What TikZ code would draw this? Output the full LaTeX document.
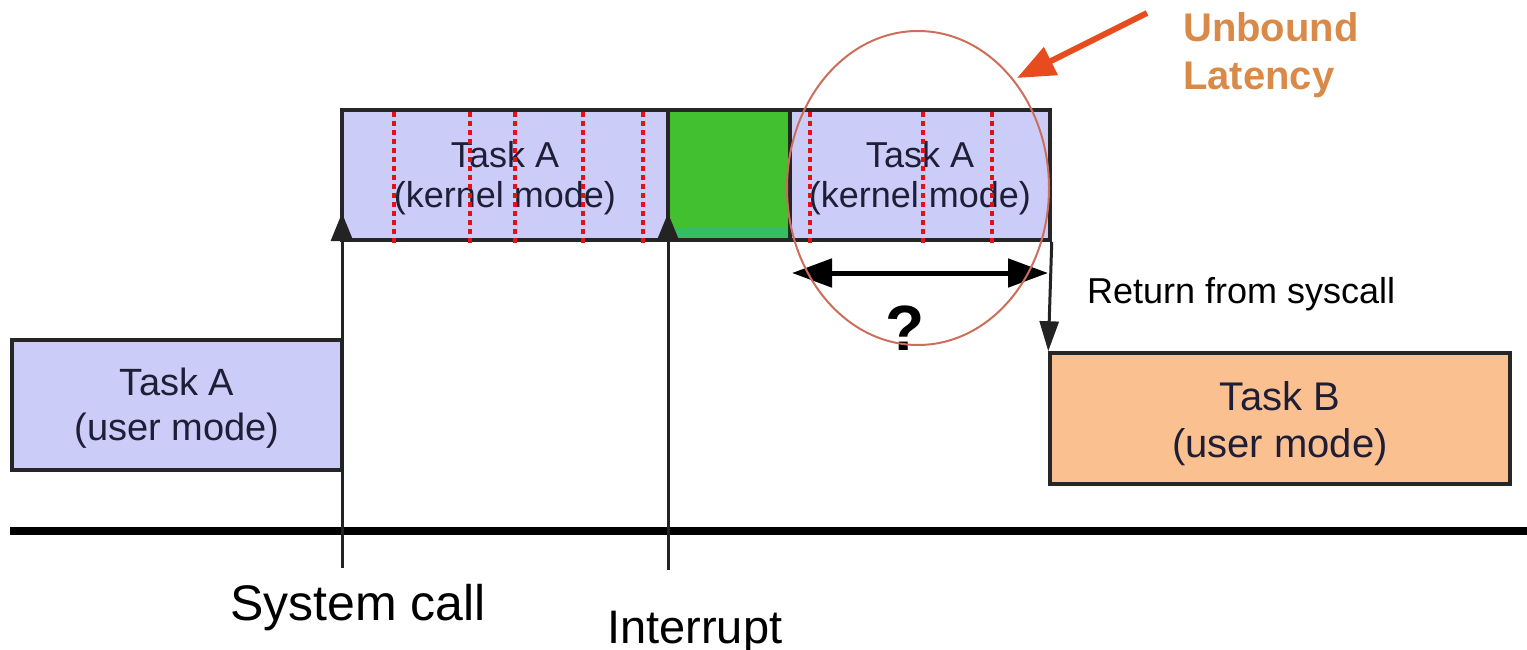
\documentclass[tikz,border=0pt]{standalone}
\usepackage{fontspec}
\setmainfont{Liberation Sans}
\usetikzlibrary{arrows.meta,shapes.geometric}
\definecolor{taskblue}{RGB}{204,204,248}
\definecolor{taskorange}{RGB}{250,192,144}
\definecolor{irqgreen}{RGB}{66,192,48}
\definecolor{irqstrip}{RGB}{52,190,100}
\definecolor{dotred}{RGB}{228,16,22}
\definecolor{circred}{RGB}{205,110,90}
\definecolor{arrorange}{RGB}{232,76,30}
\definecolor{latorange}{RGB}{218,138,72}
\definecolor{boxtext}{RGB}{30,30,55}
\definecolor{linegray}{RGB}{35,35,35}
\begin{document}
\begin{tikzpicture}[x=1pt,y=-1pt,
  taskbox/.style={draw=black!85, line width=3.5pt, inner sep=0pt, align=center, text=boxtext},
  dotline/.style={draw=dotred, line width=3.5pt, dash pattern=on 5pt off 4pt},
  vline/.style={draw=linegray, line width=3pt, -{Triangle[length=28pt,width=22pt]}},
  label/.style={inner sep=0pt, anchor=base west}
]
\useasboundingbox (0,0) rectangle (1527,650);

% boxes
\node[taskbox, fill=taskblue, minimum width=330pt, minimum height=130pt,
      font=\fontsize{38}{45}\selectfont] (ua) at (177,405) {\rule{0pt}{33.7pt}Task A\\(user mode)};
\node[taskbox, fill=taskblue, minimum width=326pt, minimum height=130pt,
      font=\fontsize{36}{40}\selectfont] (k1) at (505,175) {\rule{0pt}{32pt}Task A\\(kernel mode)};
\node[taskbox, fill=irqgreen, minimum width=122pt, minimum height=130pt] (irq) at (729,175) {};
\fill[irqstrip] (670,228) rectangle (788,238);
\node[taskbox, fill=taskblue, minimum width=260pt, minimum height=130pt,
      font=\fontsize{36}{40}\selectfont] (k2) at (920,175) {\rule{0pt}{32pt}Task A\\(kernel mode)};
\node[taskbox, fill=taskorange, minimum width=460pt, minimum height=131pt,
      font=\fontsize{40}{47}\selectfont] (tb) at (1280,418.5) {\rule{0pt}{39pt}Task B\\(user mode)};

% red dotted preemption points
\foreach \xx in {394,470,515,583,643,810,923,992}
  \draw[dotline] (\xx,112) -- (\xx,243);

% timeline
\coordinate (tl0) at (10,531);
\coordinate (tl1) at (1527,531);
\draw[line width=8pt] (tl0) -- (tl1);

% system call / interrupt arrows
\coordinate (scBot) at (342,568);
\coordinate (scTip) at (342,213);
\coordinate (irBot) at (668,570);
\coordinate (irTip) at (668,213);
\draw[vline] (scBot) -- (scTip);
\draw[vline] (irBot) -- (irTip);

% return from syscall
\draw[draw=linegray, line width=3pt, -{Triangle[length=30pt,width=19pt]}] (k2.south east) -- (tb.north west);

% latency double arrow
\coordinate (laL) at (792,273);
\coordinate (laR) at (1048,273);
\draw[line width=5pt, {Triangle[length=40pt,width=28pt]}-{Triangle[length=40pt,width=28pt]}] (laL) -- (laR);
\node[inner sep=0pt, anchor=base, font=\bfseries\fontsize{64}{64}\selectfont] (q) at (905,350) {?};

% unbound latency circle
\node[draw=circred, line width=2pt, ellipse, minimum width=262pt, minimum height=314pt, inner sep=0pt] (circ) at (918,188) {};

% orange arrow
\coordinate (oaStart) at (1147,13);
\coordinate (oaTip) at (1017,78);
\draw[draw=arrorange, line width=6pt, -{Triangle[length=38pt,width=30pt]}] (oaStart) -- (oaTip);

% labels
\node[label, text=latorange, font=\bfseries\fontsize{40}{48}\selectfont] (ub) at (1183,42) {Unbound};
\node[label, text=latorange, font=\bfseries\fontsize{40}{48}\selectfont] (lat) at (1183,90) {Latency};
\node[label, font=\fontsize{36}{40}\selectfont] (ret) at (1087,303) {Return from syscall};
\node[label, font=\fontsize{50}{55}\selectfont] (sys) at (230,620) {System call};
\node[label, font=\fontsize{47}{52}\selectfont] (int) at (607,643) {Interrupt};
\end{tikzpicture}
\end{document}
